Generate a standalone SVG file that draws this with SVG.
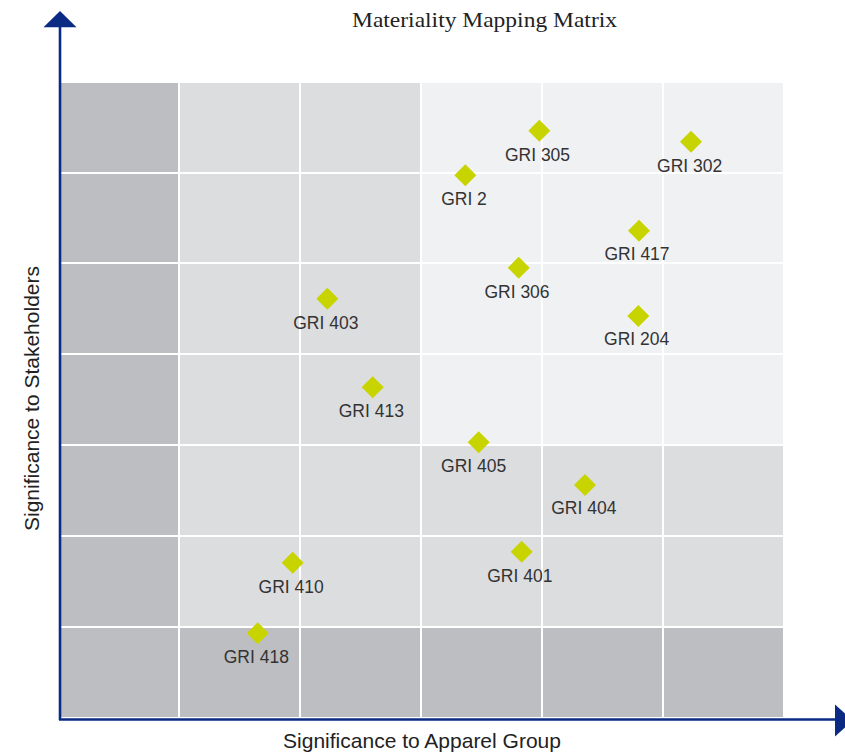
<svg xmlns="http://www.w3.org/2000/svg" width="845" height="754" viewBox="0 0 845 754">
<style>
.dark{fill:#bdbec1}
.mid{fill:#dcdddf}
.light{fill:#f0f1f3}
.grid{stroke:#ffffff;stroke-width:2;fill:none}
.axis{stroke:#0a2a84;stroke-width:2.6;fill:none}
.head{fill:#0a2a84}
.dia{fill:#c8d400}
.lbl{font-family:"Liberation Sans",Arial,sans-serif;font-size:17.5px;fill:#333333;text-anchor:middle}
.ax{font-family:"Liberation Sans",Arial,sans-serif;font-size:21px;fill:#222222;text-anchor:middle}
.title{font-family:"Liberation Serif","Times New Roman",serif;font-size:22px;fill:#222222;text-anchor:middle}
</style>
<defs>
<path id="d" d="M0,-11 L11,0 L0,11 L-11,0 Z"/>
</defs>
<rect width="845" height="754" fill="#ffffff"/>
<g id="background">
<rect class="dark" x="61" y="83" width="722" height="634"/>
<rect class="mid" x="179" y="83" width="242" height="544"/>
<rect class="light" x="421" y="83" width="362" height="362"/>
<rect class="mid" x="421" y="445" width="362" height="182"/>
</g>
<g id="gridlines">
<path class="grid" d="M179,83V717M300,83V717M421,83V717M542,83V717M663,83V717M61,173H783M61,263H783M61,354H783M61,445H783M61,536H783M61,627H783"/>
</g>
<g id="axes">
<path class="axis" d="M60,26V720"/>
<path class="axis" d="M59,719.5H836"/>
<path class="head" d="M60,11 L76.5,27.3 L43.5,27.3 Z"/>
<path class="head" d="M853,720.5 L835,704.5 L835,736.5 Z"/>
</g>
<text class="title" x="484.5" y="26.5" textLength="265" lengthAdjust="spacingAndGlyphs">Materiality Mapping Matrix</text>
<text class="ax" x="422" y="747.5">Significance to Apparel Group</text>
<text class="ax" transform="translate(38.5,398.5) rotate(-90)">Significance to Stakeholders</text>
<g id="gri305"><use href="#d" class="dia" x="539.3" y="130.7"/><text class="lbl" x="537.5" y="160.7">GRI 305</text></g>
<g id="gri302"><use href="#d" class="dia" x="691" y="141.7"/><text class="lbl" x="689.7" y="171.7">GRI 302</text></g>
<g id="gri2"><use href="#d" class="dia" x="465.3" y="175.3"/><text class="lbl" x="464" y="204.7">GRI 2</text></g>
<g id="gri417"><use href="#d" class="dia" x="639" y="230.7"/><text class="lbl" x="637" y="260">GRI 417</text></g>
<g id="gri306"><use href="#d" class="dia" x="518.7" y="267.7"/><text class="lbl" x="517" y="297.7">GRI 306</text></g>
<g id="gri403"><use href="#d" class="dia" x="327.3" y="298.7"/><text class="lbl" x="325.8" y="328.7">GRI 403</text></g>
<g id="gri204"><use href="#d" class="dia" x="638.3" y="316"/><text class="lbl" x="636.7" y="345.3">GRI 204</text></g>
<g id="gri413"><use href="#d" class="dia" x="372.7" y="387.3"/><text class="lbl" x="371.3" y="416.7">GRI 413</text></g>
<g id="gri405"><use href="#d" class="dia" x="478.7" y="442.3"/><text class="lbl" x="473.7" y="471.5">GRI 405</text></g>
<g id="gri404"><use href="#d" class="dia" x="585" y="485"/><text class="lbl" x="583.8" y="514.3">GRI 404</text></g>
<g id="gri401"><use href="#d" class="dia" x="521.7" y="551.7"/><text class="lbl" x="519.8" y="581.7">GRI 401</text></g>
<g id="gri410"><use href="#d" class="dia" x="292.7" y="562.7"/><text class="lbl" x="291.2" y="593.3">GRI 410</text></g>
<g id="gri418"><use href="#d" class="dia" x="257.7" y="633.3"/><text class="lbl" x="256.3" y="662.7">GRI 418</text></g>
</svg>
